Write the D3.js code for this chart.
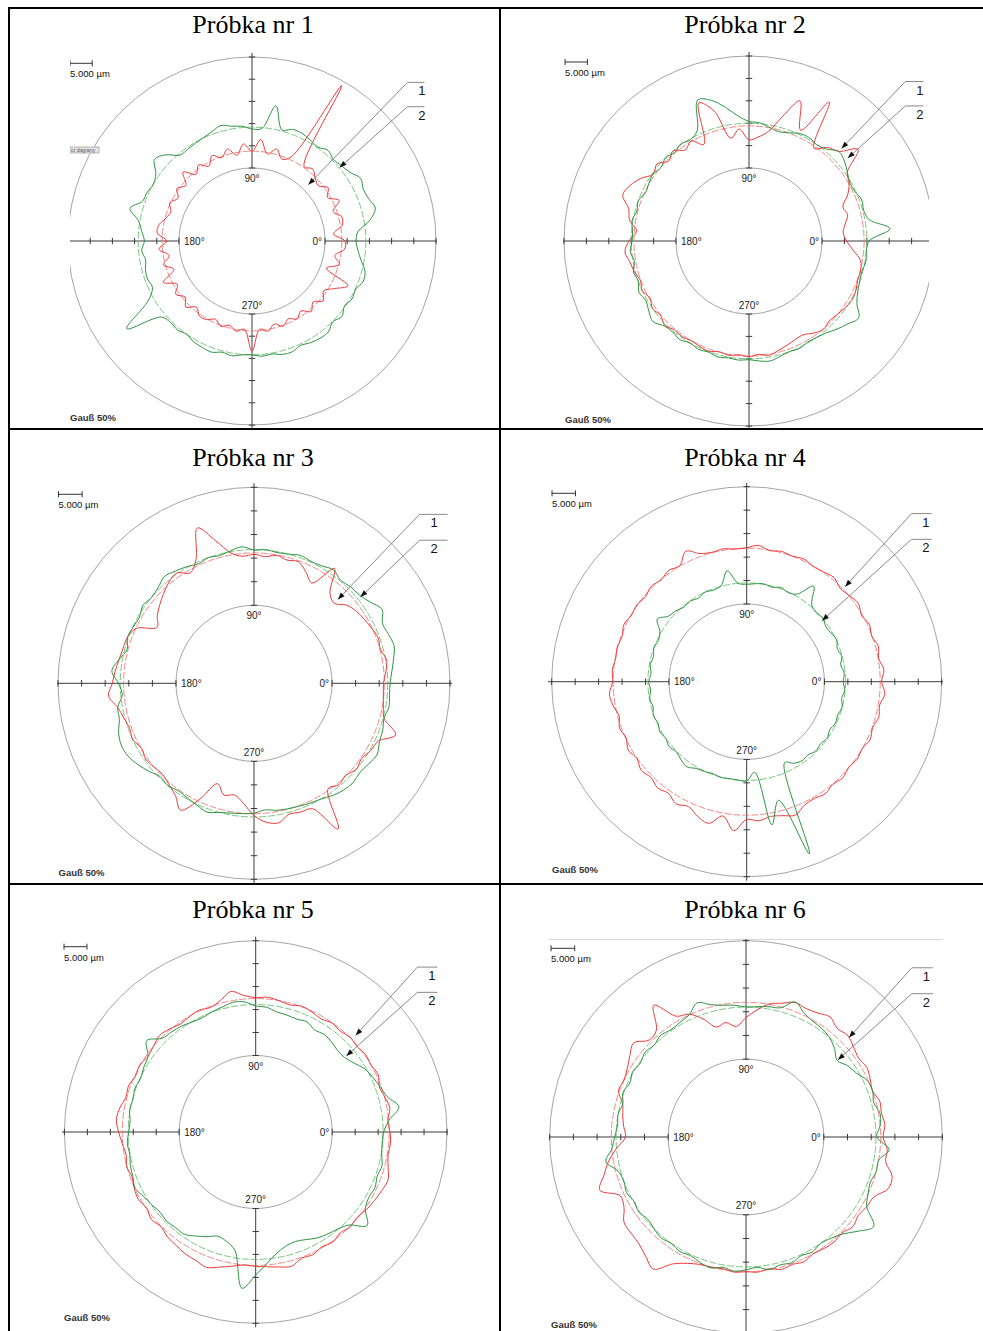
<!DOCTYPE html>
<html>
<head>
<meta charset="utf-8">
<script src="https://cdn.jsdelivr.net/npm/d3@7/dist/d3.min.js"></script>
<style>
  body { margin: 0; background: #fff; }
</style>
</head>
<body>
<div id="chart"></div>
<script>
// ---- data (radial deviation in µm, 0 = inner circle, 25 = outer circle) ----
const titles = ["Próbka nr 1", "Próbka nr 2", "Próbka nr 3", "Próbka nr 4", "Próbka nr 5", "Próbka nr 6"];

const angles = [0, 5, 10, 15, 20, 25, 30, 35, 40, 45, 50, 55, 60, 65, 70, 75, 80, 85,
  90, 95, 100, 105, 110, 115, 120, 125, 130, 135, 140, 145, 150, 155, 160, 165, 170, 175,
  180, 185, 190, 195, 200, 205, 210, 215, 220, 225, 230, 235, 240, 245, 250, 255, 260, 265,
  270, 275, 280, 285, 290, 295, 300, 305, 310, 315, 320, 325, 330, 335, 340, 345, 350, 355];

const red1 = [4.5, 2.0, 4.2, 4.5, 3.0, 5.2, 3.2, 4.5, 3.0, 3.7,
  4.8, 4.0, 24.0, 4.5, 3.2, 5.0, 3.5, 6.5, 3.8, 5.5,
  3.2, 5.0, 3.5, 4.8, 3.0, 4.5, 3.2, 5.5, 3.0, 4.2,
  2.8, 4.0, 3.0, 3.6, 4.8, 5.0, 2.8, 4.6, 2.5, 4.2,
  2.3, 5.6, 3.0, 4.5, 3.2, 4.6, 3.0, 4.2, 4.0, 3.0,
  4.0, 3.2, 4.2, 3.5, 8.4, 3.5, 4.2, 2.9, 4.0, 2.9,
  3.8, 2.8, 4.3, 3.0, 4.5, 3.2, 5.0, 7.4, 1.4, 4.0,
  2.5, 4.5];
const green1 = [7.0, 7.5, 10.5, 12.3, 11.5, 11.2, 11.8, 10.5, 9.9, 9.5,
  10.2, 9.4, 9.8, 10.3, 10.3, 9.5, 14.5, 9.0, 8.8, 9.5,
  9.8, 10.5, 9.8, 9.3, 9.0, 8.8, 8.8, 11.0, 12.2, 10.0,
  9.2, 9.6, 9.8, 12.0, 9.5, 8.5, 7.8, 8.5, 7.9, 8.4,
  8.6, 8.3, 10.6, 18.0, 10.2, 9.5, 9.7, 9.2, 9.8, 10.0,
  10.2, 9.5, 9.8, 9.3, 9.2, 9.6, 9.4, 10.0, 10.1, 9.5,
  10.0, 10.3, 10.3, 9.3, 10.0, 9.0, 9.6, 9.3, 10.2, 9.9,
  8.5, 7.5];

const red2 = [5.5, 4.8, 5.5, 6.5, 6.0, 8.0, 9.5, 10.5, 15.5, 12.0,
  11.0, 9.0, 19.5, 11.0, 17.0, 12.4, 8.5, 7.0, 6.3, 8.8,
  7.0, 13.7, 16.5, 7.5, 9.5, 8.5, 10.0, 9.0, 10.5, 9.8,
  11.6, 13.0, 13.7, 11.5, 10.8, 8.9, 10.5, 11.5, 10.7, 10.2,
  9.5, 10.0, 9.2, 10.0, 9.5, 10.3, 9.6, 9.8, 9.4, 9.7,
  9.9, 9.3, 9.6, 9.2, 9.5, 9.1, 9.6, 9.0, 8.5, 8.0,
  7.9, 8.8, 9.5, 9.0, 9.3, 9.8, 10.2, 10.0, 9.5, 9.5,
  9.0, 7.0];
const green2 = [10.5, 15.3, 11.0, 10.2, 10.5, 9.8, 9.7, 10.5, 11.5, 12.0,
  10.5, 10.0, 10.4, 10.2, 9.4, 9.0, 9.5, 10.2, 10.4, 11.7,
  14.0, 16.2, 17.2, 11.0, 9.8, 10.2, 9.5, 10.0, 9.3, 9.8,
  9.5, 9.2, 10.0, 9.6, 10.2, 9.8, 9.8, 10.3, 9.7, 10.4,
  10.0, 10.8, 10.3, 11.0, 11.7, 10.5, 10.2, 10.6, 10.0, 10.4,
  10.1, 10.5, 10.2, 10.4, 10.2, 10.6, 10.9, 10.4, 10.0, 10.2,
  9.8, 10.0, 10.5, 11.5, 12.5, 13.6, 11.5, 10.5, 10.0, 9.8,
  10.2, 10.0];

const red3 = [10.9, 11.5, 12.0, 11.2, 11.5, 11.0, 10.5, 10.0, 9.2, 7.5,
  8.5, 13.2, 8.0, 9.5, 10.9, 10.5, 11.0, 10.4, 10.8, 10.5,
  11.5, 14.7, 18.5, 12.5, 10.5, 12.0, 11.5, 10.5, 9.5, 8.5,
  7.2, 11.0, 12.0, 12.2, 12.5, 13.0, 13.5, 14.4, 12.8, 12.0,
  11.5, 11.8, 11.0, 11.5, 11.1, 10.8, 11.5, 12.5, 14.5, 10.5,
  6.1, 8.0, 7.5, 9.0, 11.5, 13.0, 13.5, 12.2, 12.5, 12.8,
  19.1, 10.8, 11.5, 11.0, 11.8, 11.3, 12.0, 12.5, 15.4, 12.0,
  11.3, 11.0];
const green3 = [12.3, 12.8, 13.5, 14.2, 13.8, 13.5, 14.8, 13.5, 12.6, 12.4,
  12.0, 12.8, 12.2, 12.0, 12.3, 11.8, 11.6, 11.9, 11.7, 12.5,
  12.0, 11.5, 11.8, 11.4, 12.0, 12.5, 13.0, 12.2, 11.8, 12.2,
  11.5, 11.7, 12.0, 11.3, 12.5, 13.7, 12.2, 11.5, 12.8, 13.0,
  14.0, 14.5, 14.3, 13.5, 12.5, 11.5, 11.8, 11.3, 11.6, 12.0,
  12.5, 11.8, 11.4, 11.2, 11.0, 10.4, 10.8, 11.0, 11.2, 11.5,
  11.8, 12.5, 13.0, 13.2, 12.8, 13.2, 13.6, 12.8, 12.5, 12.0,
  12.5, 12.3];

const red4 = [12.2, 12.8, 12.0, 12.5, 11.8, 12.3, 11.7, 12.5, 12.0, 11.6,
  12.4, 12.0, 11.8, 12.3, 11.9, 12.2, 11.8, 12.6, 12.0, 11.8,
  12.2, 12.0, 12.5, 14.1, 12.0, 12.4, 11.8, 12.2, 11.6, 12.0,
  11.8, 12.3, 11.7, 12.0, 11.8, 12.2, 12.0, 12.8, 12.4, 11.6,
  12.3, 11.8, 12.6, 12.0, 12.8, 12.3, 13.0, 12.5, 13.5, 12.8,
  14.0, 14.7, 12.5, 15.3, 12.8, 13.2, 12.6, 13.0, 13.7, 12.5,
  12.2, 12.6, 12.0, 12.4, 11.8, 12.2, 11.9, 12.5, 12.0, 12.6,
  12.2, 13.0];
const green4 = [4.0, 4.3, 3.8, 4.4, 4.0, 4.6, 4.2, 4.0, 4.6, 4.3,
  5.0, 8.3, 5.0, 4.4, 4.8, 4.3, 4.6, 4.4, 4.2, 4.5,
  7.4, 4.6, 4.2, 4.5, 4.0, 4.4, 4.2, 4.8, 5.2, 6.7,
  4.8, 4.2, 4.5, 4.0, 4.3, 3.9, 4.3, 4.0, 4.4, 4.1,
  4.6, 4.3, 4.8, 4.5, 5.0, 4.6, 5.2, 5.6, 4.8, 4.6,
  4.3, 4.6, 4.4, 4.5, 4.6, 2.8, 14.4, 9.6, 22.5, 2.5,
  3.5, 4.0, 3.8, 4.3, 4.0, 4.4, 3.9, 4.3, 4.1, 4.5,
  4.0, 4.4];

const red5 = [12.6, 12.2, 13.0, 12.5, 12.0, 12.8, 12.4, 12.6, 12.2, 12.5,
  12.0, 12.3, 11.8, 12.2, 12.5, 12.0, 12.4, 12.8, 12.6, 13.2,
  14.4, 13.0, 12.2, 12.6, 12.3, 12.0, 12.6, 13.0, 12.4, 12.0,
  12.5, 12.2, 12.8, 12.6, 13.4, 13.8, 13.2, 12.5, 12.0, 12.4,
  12.0, 12.5, 12.8, 12.3, 13.0, 12.5, 13.2, 13.5, 14.0, 14.2,
  14.7, 13.8, 13.0, 12.4, 12.6, 12.8, 13.2, 13.6, 12.6, 12.8,
  12.2, 12.6, 12.0, 12.5, 12.2, 12.8, 13.2, 13.6, 14.0, 13.2,
  12.6, 12.8];
const green5 = [11.2, 12.5, 15.0, 13.0, 12.2, 11.5, 10.8, 9.5, 8.6, 8.5,
  9.0, 9.3, 9.0, 9.8, 9.5, 9.7, 9.9, 10.6, 10.8, 11.8,
  12.0, 11.5, 11.2, 10.8, 11.0, 11.5, 11.8, 12.2, 14.3, 12.0,
  11.5, 11.0, 11.3, 11.0, 11.2, 10.8, 11.0, 11.4, 11.2, 11.6,
  11.8, 12.3, 11.5, 11.0, 10.5, 10.8, 10.5, 10.5, 9.5, 8.5,
  7.5, 8.0, 9.5, 17.5, 14.5, 12.0, 10.1, 9.0, 8.7, 9.2,
  10.0, 10.5, 11.0, 12.0, 15.0, 12.5, 11.8, 12.0, 11.5, 11.8,
  11.2, 11.0];

const red6 = [12.5, 13.0, 12.6, 12.8, 12.0, 12.5, 13.0, 12.6, 13.2, 13.9,
  13.5, 14.5, 13.8, 13.5, 13.8, 12.8, 12.1, 10.5, 8.8, 7.0,
  8.1, 7.6, 10.1, 12.2, 13.0, 17.5, 13.0, 12.5, 14.5, 13.5,
  12.5, 12.0, 12.2, 10.5, 10.0, 9.5, 9.0, 11.0, 13.0, 14.6,
  16.4, 12.9, 13.3, 15.0, 15.2, 15.5, 16.5, 17.6, 14.5, 13.0,
  12.2, 12.0, 11.8, 12.2, 12.0, 12.2, 11.8, 12.5, 12.2, 12.6,
  12.0, 12.3, 12.5, 12.2, 13.0, 12.5, 13.0, 13.4, 15.5, 15.5,
  13.5, 13.5];
const green6 = [11.2, 12.0, 12.3, 11.5, 12.0, 11.8, 10.5, 9.8, 8.7, 10.0,
  11.0, 11.5, 11.8, 12.5, 13.9, 11.8, 11.5, 11.2, 11.0, 11.5,
  11.8, 12.5, 13.7, 12.0, 11.5, 11.2, 11.6, 11.0, 11.4, 10.8,
  11.2, 10.6, 11.2, 10.5, 11.0, 10.8, 11.3, 12.0, 13.6, 11.5,
  11.0, 11.4, 10.8, 11.2, 10.6, 11.0, 11.4, 11.0, 11.5, 11.2,
  11.8, 12.2, 11.5, 12.0, 11.6, 11.2, 12.0, 11.5, 11.8, 11.2,
  11.6, 11.0, 11.5, 12.5, 14.5, 16.5, 13.0, 12.0, 11.5, 12.0,
  12.0, 13.9];

const redSeries = [red1, red2, red3, red4, red5, red6];
const greenSeries = [green1, green2, green3, green4, green5, green6];

// fitted reference circles (µm)
const refRed = [3.8, 9.4, 11.1, 11.9, 12.4, 12.0];
const refGreen = [9.2, 10.0, 11.8, 4.5, 11.1, 11.0];

// leader arrow tips [angle, µm]
const arrow1Tips = [[45, 1.5], [45, 12.9], [45, 8.6], [44, 12.6], [44, 13.6], [44, 13.8]];
const arrow2Tips = [[40, 9.3], [40, 12.5], [39, 12.5], [39, 4.1], [40, 9.1], [40, 8.9]];

const radialTicks = [0, 5, 10, 15, 20, 25];
const angleLabels = ["0°", "90°", "180°", "270°"];
const scaleLabel = "5.000 µm";
const filterLabel = "Gauß 50%";

// ---- layout ----
const width = 983, height = 1331;
const layout = [
  { cx: 252, cy: 241, rIn: 73, rOut: 184, img: [70, 52, 437, 429], legX: 70, labY: 77.3, gaussY: 421, seg: 17, titleX: 253, titleY: 33 },
  { cx: 749, cy: 241, rIn: 73, rOut: 185, img: [563, 52, 929, 429], legX: 565, labY: 76, gaussY: 422.7, seg: 18, titleX: 745, titleY: 33 },
  { cx: 254, cy: 683.3, rIn: 78, rOut: 196, img: [57, 483, 452, 884], legX: 58.5, labY: 508.3, gaussY: 876, seg: 28, titleX: 253, titleY: 466 },
  { cx: 746.7, cy: 681.7, rIn: 77.7, rOut: 195, img: [548, 483, 943, 884], legX: 552, labY: 507.3, gaussY: 873.3, seg: 20, titleX: 745, titleY: 466 },
  { cx: 255.7, cy: 1132, rIn: 76.5, rOut: 191.3, img: [62, 935, 448, 1331], legX: 64, labY: 960.7, gaussY: 1321, seg: 20, titleX: 253, titleY: 918 },
  { cx: 746, cy: 1137, rIn: 77.8, rOut: 196.3, img: [549, 939, 943, 1331], legX: 551, labY: 962.3, gaussY: 1328.3, seg: 21, titleX: 745, titleY: 918 }
];

const redColor = "#ee3b3b", redRef = "#f27a7a";
const greenColor = "#2f9443", greenRef = "#6cbf72";
const sans = "'Liberation Sans', Arial, sans-serif";

const svg = d3.select("#chart").append("svg")
  .attr("width", width)
  .attr("height", height)
  .style("display", "block");

const defs = svg.append("defs");

// table grid
const grid = [
  [8, 8, width, 8], [9, 7, 9, height], [500, 8, 500, height],
  [9, 429, width, 429], [9, 884, width, 884]
];
grid.forEach(l => {
  svg.append("line")
    .attr("x1", l[0]).attr("y1", l[1]).attr("x2", l[2]).attr("y2", l[3])
    .attr("stroke", "#000").attr("stroke-width", 2);
});

const angleScale = d3.scaleLinear().domain([0, 360]).range([Math.PI / 2, Math.PI / 2 - 2 * Math.PI]);

layout.forEach((p, i) => {
  const r = d3.scaleLinear().domain([0, 25]).range([p.rIn, p.rOut]);
  const toXY = (deg, v) => {
    const t = deg * Math.PI / 180;
    return [p.cx + r(v) * Math.cos(t), p.cy - r(v) * Math.sin(t)];
  };

  // title
  svg.append("text")
    .attr("x", p.titleX).attr("y", p.titleY)
    .attr("text-anchor", "middle")
    .attr("font-family", "'Liberation Serif', 'Times New Roman', serif")
    .attr("font-size", "26px")
    .attr("fill", "#000")
    .text(titles[i]);

  defs.append("clipPath").attr("id", "clip" + i)
    .append("rect")
    .attr("x", p.img[0]).attr("y", p.img[1])
    .attr("width", p.img[2] - p.img[0]).attr("height", p.img[3] - p.img[1]);

  const g = svg.append("g").attr("clip-path", `url(#clip${i})`);

  if (i === 5) {
    g.append("line")
      .attr("x1", p.img[0]).attr("y1", p.img[1] + 0.5)
      .attr("x2", p.img[2]).attr("y2", p.img[1] + 0.5)
      .attr("stroke", "#d8d8d8").attr("stroke-width", 1);
  }

  // inner and outer grey circles
  [0, 25].forEach(v => {
    g.append("circle")
      .attr("cx", p.cx).attr("cy", p.cy).attr("r", r(v))
      .attr("fill", "none").attr("stroke", "#9a9a9a").attr("stroke-width", 0.9);
  });

  // axes with ticks (only between inner and outer circle)
  [0, 90, 180, 270].forEach(deg => {
    const t = deg * Math.PI / 180;
    const ux = Math.cos(t), uy = -Math.sin(t);
    g.append("line")
      .attr("x1", p.cx + ux * r(0)).attr("y1", p.cy + uy * r(0))
      .attr("x2", p.cx + ux * (r(25) + 4)).attr("y2", p.cy + uy * (r(25) + 4))
      .attr("stroke", "#3a3a3a").attr("stroke-width", 1);
    radialTicks.forEach(v => {
      const px = p.cx + ux * r(v), py = p.cy + uy * r(v);
      g.append("line")
        .attr("x1", px - uy * 3.2).attr("y1", py + ux * 3.2)
        .attr("x2", px + uy * 3.2).attr("y2", py - ux * 3.2)
        .attr("stroke", "#3a3a3a").attr("stroke-width", 1);
    });
  });

  // angle labels
  const lab = { "font-family": sans, "font-size": "10px", fill: "#222" };
  const addLab = (x, y, anchor, txt) => {
    const t = g.append("text").attr("x", x).attr("y", y).attr("text-anchor", anchor).text(txt);
    Object.entries(lab).forEach(([k, v]) => t.attr(k, v));
  };
  addLab(p.cx + r(0) - 3, p.cy + 3.5, "end", angleLabels[0]);
  addLab(p.cx, p.cy - r(0) + 14, "middle", angleLabels[1]);
  addLab(p.cx - r(0) + 5, p.cy + 3.5, "start", angleLabels[2]);
  addLab(p.cx, p.cy + r(0) - 5.5, "middle", angleLabels[3]);

  // reference circles
  g.append("circle")
    .attr("cx", p.cx).attr("cy", p.cy).attr("r", r(refGreen[i]))
    .attr("fill", "none").attr("stroke", greenRef).attr("stroke-width", 0.9)
    .attr("stroke-dasharray", "7,2");
  g.append("circle")
    .attr("cx", p.cx).attr("cy", p.cy).attr("r", r(refRed[i]))
    .attr("fill", "none").attr("stroke", redRef).attr("stroke-width", 0.9)
    .attr("stroke-dasharray", "7,2");

  // profiles
  const profile = d3.lineRadial()
    .angle(d => angleScale(d[0]))
    .radius(d => r(d[1]))
    .curve(d3.curveCatmullRomClosed.alpha(0.5));

  g.append("path")
    .attr("transform", `translate(${p.cx},${p.cy})`)
    .attr("d", profile(d3.zip(angles, redSeries[i])))
    .attr("fill", "none").attr("stroke", redColor).attr("stroke-width", 1);
  g.append("path")
    .attr("transform", `translate(${p.cx},${p.cy})`)
    .attr("d", profile(d3.zip(angles, greenSeries[i])))
    .attr("fill", "none").attr("stroke", greenColor).attr("stroke-width", 1);

  // scale bar
  const barY = p.labY - 14;
  const barLen = r(5) - r(0);
  g.append("line")
    .attr("x1", p.legX).attr("y1", barY).attr("x2", p.legX + barLen).attr("y2", barY)
    .attr("stroke", "#333").attr("stroke-width", 1);
  [p.legX, p.legX + barLen].forEach(x => {
    g.append("line")
      .attr("x1", x).attr("y1", barY - 3).attr("x2", x).attr("y2", barY + 3)
      .attr("stroke", "#333").attr("stroke-width", 1);
  });
  g.append("text")
    .attr("x", p.legX).attr("y", p.labY)
    .attr("font-family", sans).attr("font-size", "9.5px").attr("fill", "#111")
    .text(scaleLabel);

  g.append("text")
    .attr("x", p.legX).attr("y", p.gaussY)
    .attr("font-family", sans).attr("font-size", "9.5px").attr("font-weight", "bold")
    .attr("fill", "#333")
    .text(filterLabel);

  if (i === 0) {
    g.append("rect")
      .attr("x", 70).attr("y", 147).attr("width", 29).attr("height", 6)
      .attr("fill", "#e6e6e6").attr("stroke", "#8a8a8a").attr("stroke-width", 0.6);
    g.append("text")
      .attr("x", 71).attr("y", 152)
      .attr("font-family", sans).attr("font-size", "4.5px").attr("fill", "#555")
      .text("cz diagramy");
  }

  // leader arrows 1 and 2
  const ex = p.cx + 0.845 * p.rOut;
  [[arrow1Tips[i], p.cy - 0.862 * p.rOut, "1"], [arrow2Tips[i], p.cy - 0.73 * p.rOut, "2"]]
    .forEach(([tip, ey, name]) => {
      const [tx, ty] = toXY(tip[0], tip[1]);
      svg.append("polyline")
        .attr("points", `${tx},${ty} ${ex},${ey} ${ex + p.seg},${ey}`)
        .attr("fill", "none").attr("stroke", "#7a7a7a").attr("stroke-width", 0.9);
      const dx = tx - ex, dy = ty - ey, len = Math.hypot(dx, dy);
      const ux = dx / len, uy = dy / len;
      const bx = tx - ux * 7, by = ty - uy * 7;
      svg.append("polygon")
        .attr("points", `${tx},${ty} ${bx - uy * 2.6},${by + ux * 2.6} ${bx + uy * 2.6},${by - ux * 2.6}`)
        .attr("fill", "#111");
      svg.append("text")
        .attr("x", ex + 14.5).attr("y", ey + 13)
        .attr("text-anchor", "middle")
        .attr("font-family", sans).attr("font-size", "13px").attr("fill", "#111")
        .text(name);
    });
});
</script>
</body>
</html>
